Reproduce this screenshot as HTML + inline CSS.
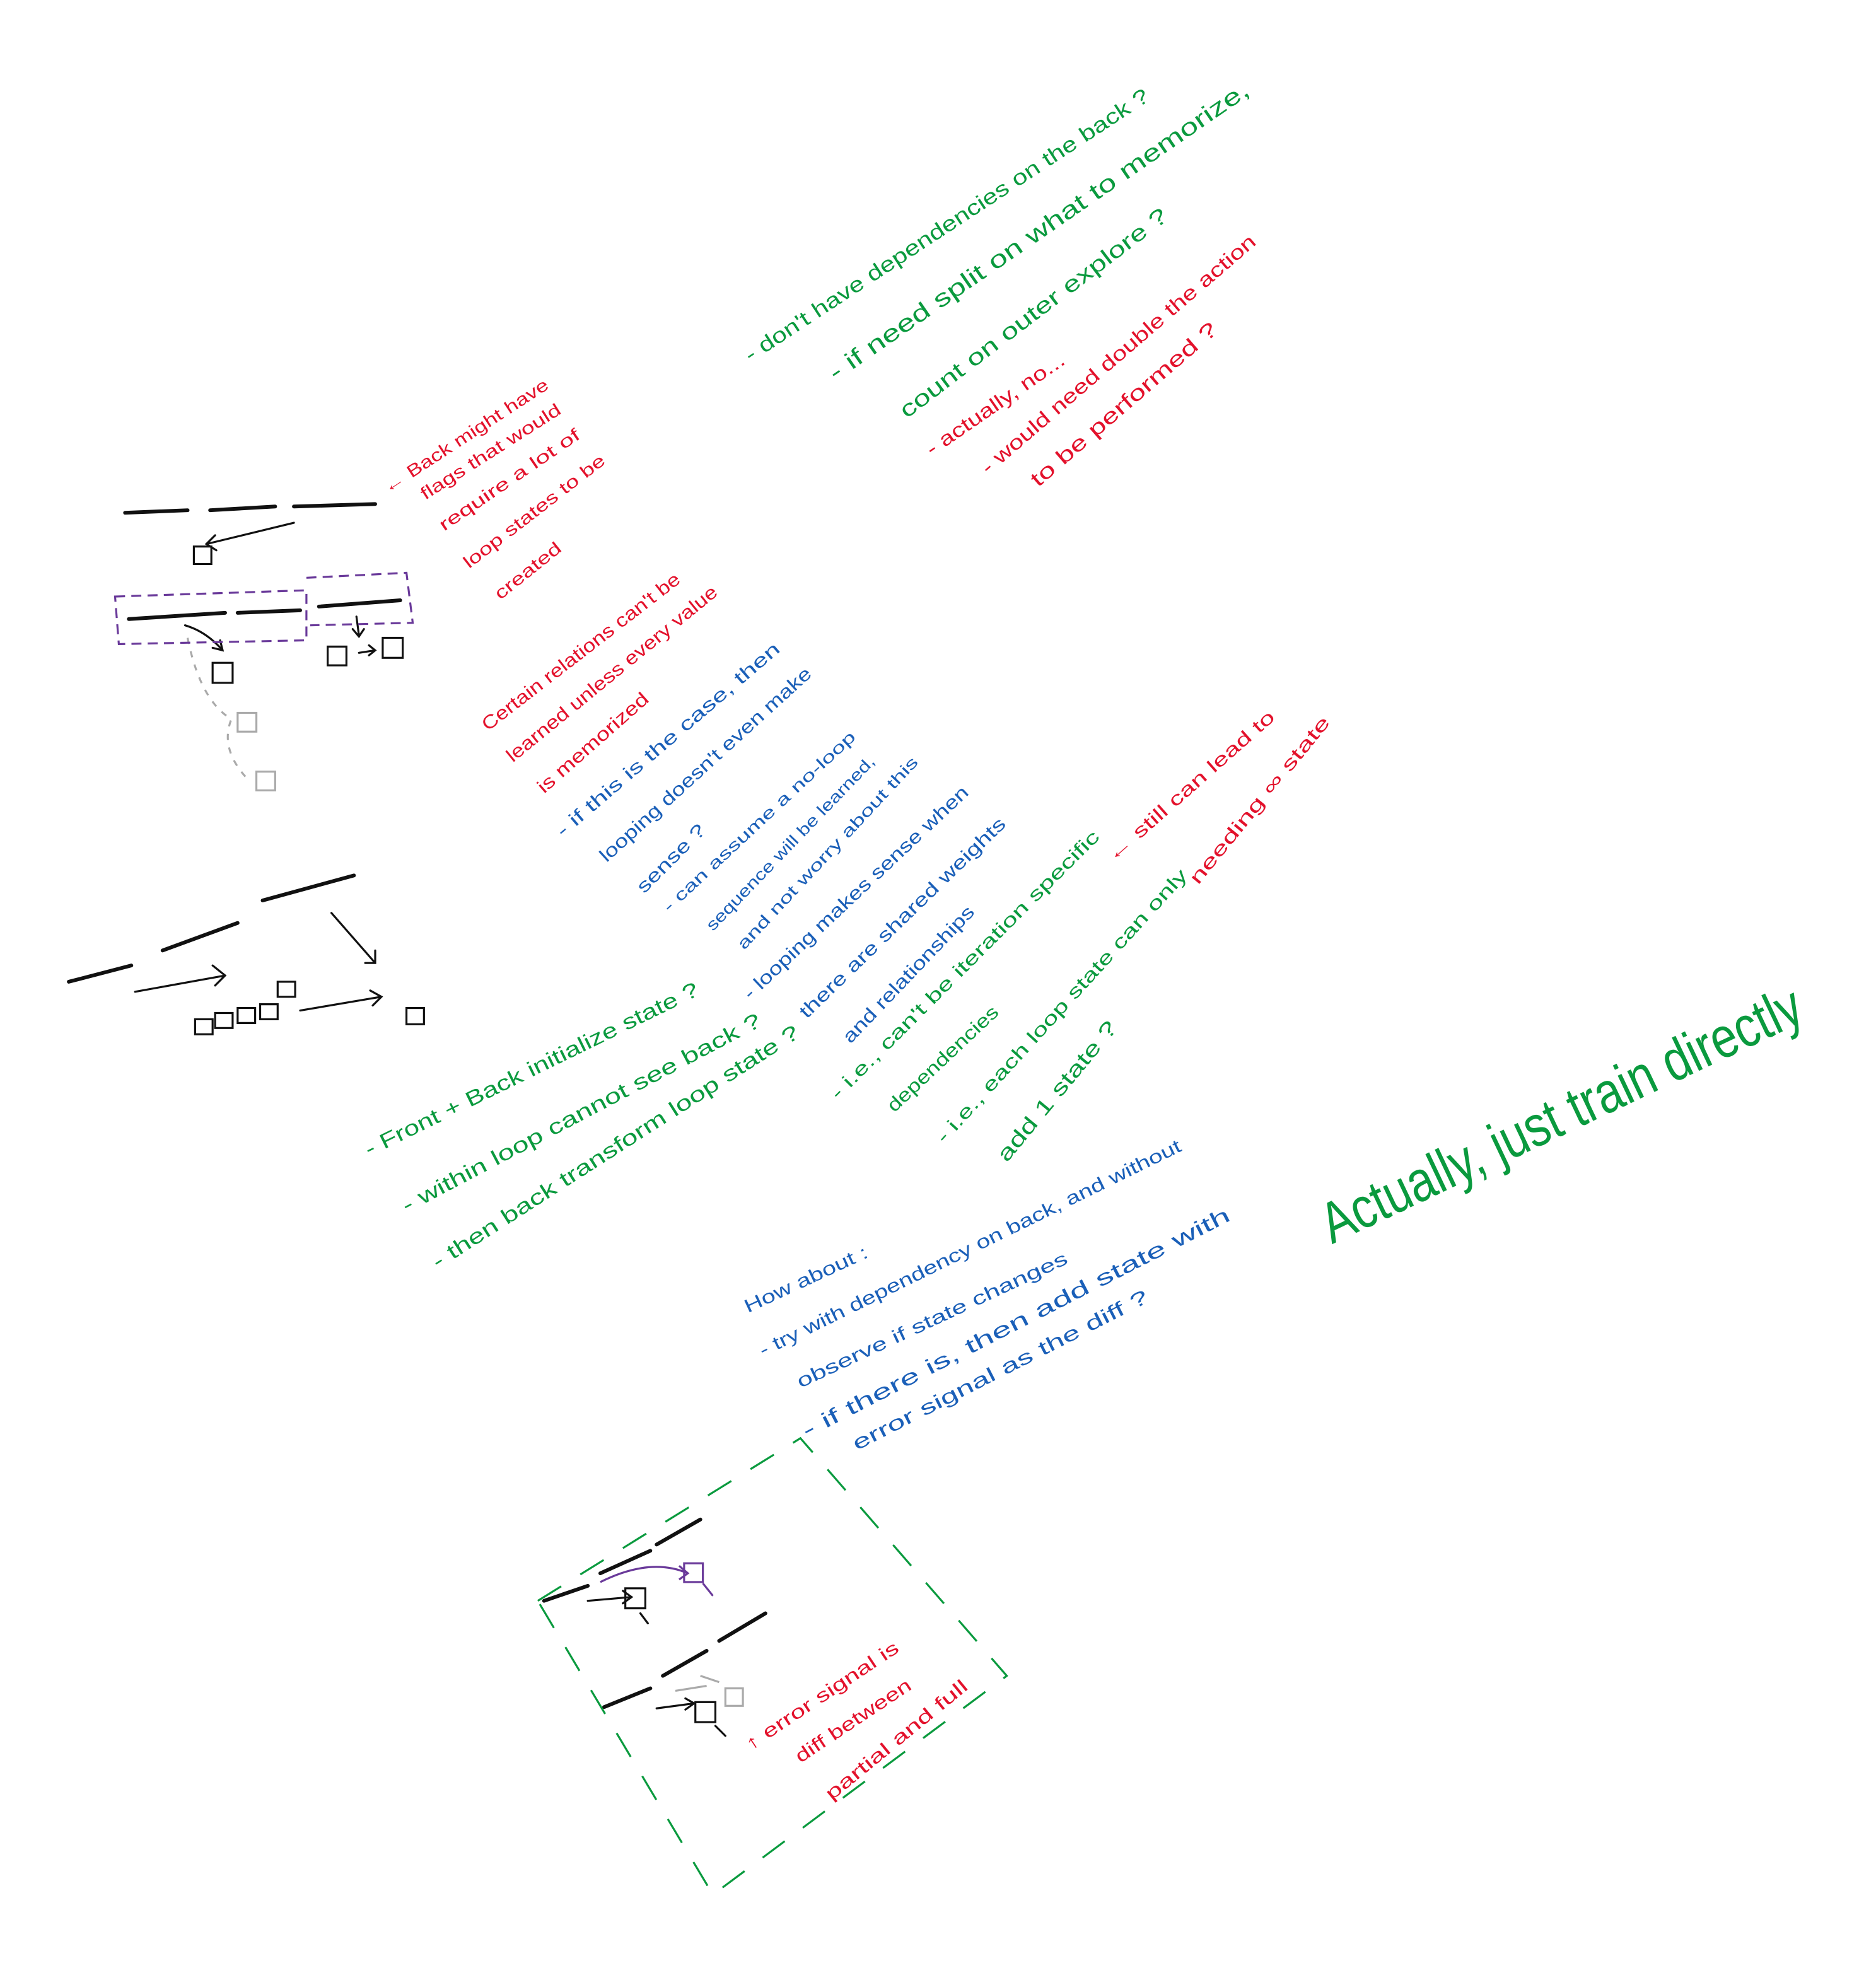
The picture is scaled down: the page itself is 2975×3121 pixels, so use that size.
<!DOCTYPE html>
<html><head><meta charset="utf-8"><style>
html,body{margin:0;padding:0;background:#fff;}
svg{display:block;}
text{font-family:"Liberation Sans",sans-serif;}
</style></head><body>
<svg width="2975" height="3121" viewBox="0 0 1500 1573.6" xmlns="http://www.w3.org/2000/svg">
<rect width="1500" height="1574" fill="#fff"/>
<g font-size="17" fill="#0a9a3e">
<text transform="translate(600,290) rotate(-33.3)" textLength="383" lengthAdjust="spacingAndGlyphs">- don't have dependencies on the back ?</text>
<text font-size="19" transform="translate(668,305) rotate(-34.7)" textLength="404" lengthAdjust="spacingAndGlyphs">- if need split on what to memorize,</text>
<text font-size="18" transform="translate(725,335) rotate(-37.3)" textLength="264" lengthAdjust="spacingAndGlyphs">count on outer explore ?</text>
<text transform="translate(295,925) rotate(-26.1)" textLength="295" lengthAdjust="spacingAndGlyphs">- Front + Back initialize state ?</text>
<text transform="translate(325,970) rotate(-27.8)" textLength="322" lengthAdjust="spacingAndGlyphs">- within loop cannot see back ?</text>
<text transform="translate(350,1015) rotate(-32.7)" textLength="345" lengthAdjust="spacingAndGlyphs">- then back transform loop state ?</text>
<text font-size="15" transform="translate(670,880) rotate(-45)" textLength="297" lengthAdjust="spacingAndGlyphs">- i.e., can't be iteration specific</text>
<text font-size="15" transform="translate(715,890) rotate(-43.3)" textLength="116" lengthAdjust="spacingAndGlyphs">dependencies</text>
<text font-size="15" transform="translate(755,915) rotate(-47.7)" textLength="290" lengthAdjust="spacingAndGlyphs">- i.e., each loop state can only</text>
<text font-size="17" transform="translate(805,930) rotate(-50.4)" textLength="140" lengthAdjust="spacingAndGlyphs">add 1 state ?</text>
<text font-size="46" transform="translate(1065,995) rotate(-25.3)" textLength="420" lengthAdjust="spacingAndGlyphs">Actually, just train directly</text>
</g>
<g font-size="16" fill="#e3112b">
<text transform="translate(745,365) rotate(-34.7)" textLength="131" lengthAdjust="spacingAndGlyphs">- actually, no...</text>
<text transform="translate(790,380) rotate(-40.7)" textLength="284" lengthAdjust="spacingAndGlyphs">- would need double the action</text>
<text font-size="17" transform="translate(830,390) rotate(-40.8)" textLength="191" lengthAdjust="spacingAndGlyphs">to be performed ?</text>
<text font-size="14" transform="translate(310,395) rotate(-33.2)" textLength="155" lengthAdjust="spacingAndGlyphs">← Back might have</text>
<text font-size="14" transform="translate(340,400) rotate(-32.5)" textLength="130" lengthAdjust="spacingAndGlyphs">flags that would</text>
<text font-size="14" transform="translate(355,425) rotate(-34.3)" textLength="133" lengthAdjust="spacingAndGlyphs">require a lot of</text>
<text font-size="14" transform="translate(375,455) rotate(-37.7)" textLength="139" lengthAdjust="spacingAndGlyphs">loop states to be</text>
<text font-size="14" transform="translate(400,480) rotate(-38.7)" textLength="64" lengthAdjust="spacingAndGlyphs">created</text>
<text font-size="15" transform="translate(390,585) rotate(-37.7)" textLength="196" lengthAdjust="spacingAndGlyphs">Certain relations can't be</text>
<text font-size="15" transform="translate(410,610) rotate(-39.3)" textLength="213" lengthAdjust="spacingAndGlyphs">learned unless every value</text>
<text font-size="15" transform="translate(435,635) rotate(-41.4)" textLength="113" lengthAdjust="spacingAndGlyphs">is memorized</text>
<text font-size="15" transform="translate(890,690) rotate(-41.5)" textLength="174" lengthAdjust="spacingAndGlyphs">← still can lead to</text>
<text font-size="15" transform="translate(958,708) rotate(-50.8)" textLength="168" lengthAdjust="spacingAndGlyphs">needing ∞ state</text>
<text font-size="15" transform="translate(600,1400) rotate(-33.7)" textLength="144" lengthAdjust="spacingAndGlyphs">↑ error signal is</text>
<text font-size="15" transform="translate(640,1410) rotate(-33.7)" textLength="108" lengthAdjust="spacingAndGlyphs">diff between</text>
<text font-size="15" transform="translate(665,1440) rotate(-39.3)" textLength="142" lengthAdjust="spacingAndGlyphs">partial and full</text>
</g>
<g font-size="15" fill="#1a5fb8">
<text transform="translate(450,670) rotate(-40.6)" textLength="230" lengthAdjust="spacingAndGlyphs">- if this is the case, then</text>
<text transform="translate(485,690) rotate(-42.3)" textLength="223" lengthAdjust="spacingAndGlyphs">looping doesn't even make</text>
<text transform="translate(515,715) rotate(-45)" textLength="71" lengthAdjust="spacingAndGlyphs">sense ?</text>
<text font-size="13" transform="translate(535,730) rotate(-43)" textLength="205" lengthAdjust="spacingAndGlyphs">- can assume a no-loop</text>
<text font-size="13" transform="translate(570,745) rotate(-46.1)" textLength="188" lengthAdjust="spacingAndGlyphs">sequence will be learned,</text>
<text font-size="13" transform="translate(595,760) rotate(-47)" textLength="205" lengthAdjust="spacingAndGlyphs">and not worry about this</text>
<text transform="translate(600,800) rotate(-43.3)" textLength="241" lengthAdjust="spacingAndGlyphs">- looping makes sense when</text>
<text transform="translate(645,815) rotate(-44.1)" textLength="223" lengthAdjust="spacingAndGlyphs">there are shared weights</text>
<text transform="translate(680,835) rotate(-46.4)" textLength="145" lengthAdjust="spacingAndGlyphs">and relationships</text>
<text transform="translate(598,1050) rotate(-24.9)" textLength="107" lengthAdjust="spacingAndGlyphs">How about :</text>
<text transform="translate(610,1085) rotate(-26.2)" textLength="374" lengthAdjust="spacingAndGlyphs">- try with dependency on back, and without</text>
<text transform="translate(640,1110) rotate(-25)" textLength="237" lengthAdjust="spacingAndGlyphs">observe if state changes</text>
<text font-size="17" transform="translate(645,1150) rotate(-27.2)" textLength="382" lengthAdjust="spacingAndGlyphs">- if there is, then add state with</text>
<text font-size="16" transform="translate(685,1160) rotate(-27)" textLength="263" lengthAdjust="spacingAndGlyphs">error signal as the diff ?</text>
</g>
<g stroke="#111" stroke-width="3" fill="none" stroke-linecap="round">
<path d="M100 410 L150 408 M168 408 L220 405 M235 405 L300 403"/>
<path d="M103 495 L180 490 M190 490 L240 488 M255 485 L320 480"/>
<path d="M55 785 L105 772 M130 760 L190 738 M210 720 L283 700"/>
<path d="M435 1280 L470 1268 M480 1258 L520 1240 M525 1235 L560 1215"/>
<path d="M483 1365 L520 1350 M530 1340 L565 1320 M575 1312 L612 1290"/>
</g>
<g stroke="#111" stroke-width="1.6" fill="none" stroke-linecap="round">
<path d="M235 418 L165 435 M172 428 L165 435 L173 440"/>
<rect x="155" y="437" width="14" height="14"/>
<path d="M148 500 Q165 505 178 520 M170 518 L178 520 L176 512"/>
<rect x="170" y="530" width="16" height="16"/>
<path d="M285 493 L287 508 M282 503 L287 509 L291 503"/>
<rect x="262" y="517" width="15" height="15"/>
<path d="M287 522 L300 520 M295 516 L300 520 L295 524"/>
<rect x="306" y="510" width="16" height="16"/>
<path d="M108 793 L180 780 M170 772 L180 780 L172 788"/>
<path d="M156 815 h14 v12 h-14 z M172 810 h14 v12 h-14 z M190 806 h14 v12 h-14 z M208 803 h14 v12 h-14 z M222 785 h14 v12 h-14 z"/>
<path d="M240 808 L305 797 M296 792 L305 797 L298 804"/>
<rect x="325" y="806" width="14" height="13"/>
<path d="M265 730 L300 770 M292 770 L300 770 L300 760"/>
<path d="M470 1280 L505 1277 M498 1272 L505 1277 L498 1282"/>
<rect x="500" y="1270" width="16" height="16"/>
<path d="M512 1290 L518 1298"/>
<path d="M525 1366 L555 1362 M548 1358 L555 1362 L548 1367"/>
<rect x="556" y="1361" width="16" height="16"/>
<path d="M572 1380 L580 1388"/>
</g>
<g stroke="#aaa" stroke-width="1.6" fill="none">
<path d="M150 510 Q160 560 185 575 Q175 600 200 625" stroke-dasharray="5 6"/>
<rect x="190" y="570" width="15" height="15"/>
<rect x="205" y="617" width="15" height="15"/>
<path d="M540 1352 L565 1348 M560 1340 L575 1345"/>
<rect x="580" y="1350" width="14" height="14"/>
</g>
<g stroke="#6a3a9a" stroke-width="1.6" fill="none">
<path d="M92 477 L245 472 L245 512 L95 515 Z M245 462 L325 458 L330 498 L248 500" stroke-dasharray="8 5"/>
<path d="M480 1265 Q520 1245 550 1258 M543 1252 L550 1258 L543 1263"/>
<rect x="547" y="1250" width="15" height="15"/>
<path d="M562 1266 L570 1276"/>
</g>
<path d="M430 1280 L640 1150 L805 1340 L570 1515 Z" stroke="#0a9a3e" stroke-width="1.6" fill="none" stroke-dasharray="22 18"/>
</svg>
</body></html>
